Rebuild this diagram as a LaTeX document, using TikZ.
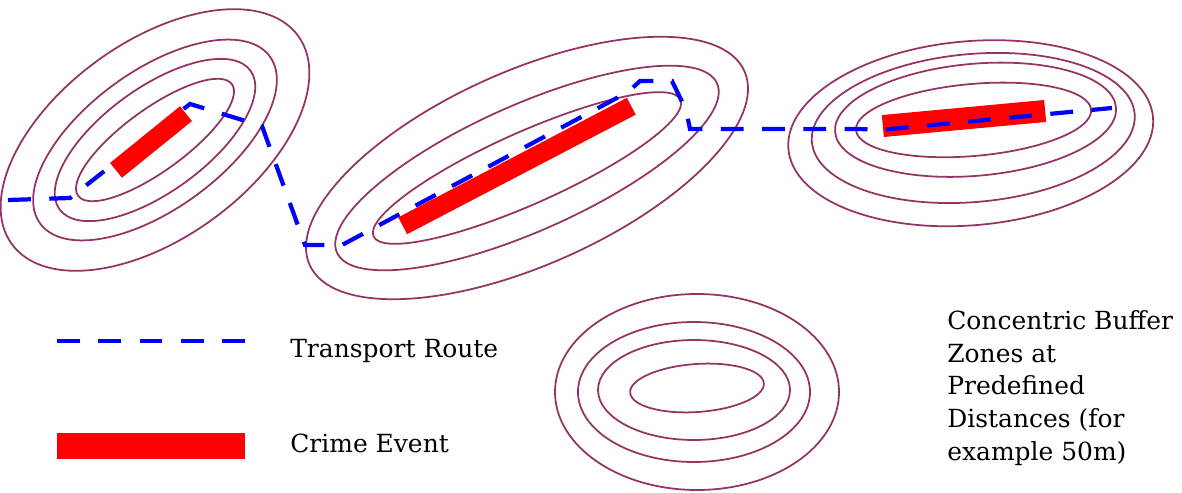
\documentclass[tikz,border=0pt]{standalone}
\usepackage{fontspec}
\setmainfont{Liberation Serif}
\newfontfamily\labelfont{DejaVu Serif}

\definecolor{zonecolor}{RGB}{150,50,100}

\tikzset{
    zone/.style={
        draw=zonecolor,
        line width=1pt
    },
    route/.style={
        draw=blue,
        line width=2.4pt,
        dash pattern=on 13pt off 10.5pt
    },
    crime/.style={
        fill=red
    },
    legendtext/.style={
        anchor=base west,
        inner sep=0pt,
        font=\labelfont\fontsize{14.2}{18.5}\selectfont
    }
}

\begin{document}
\begin{tikzpicture}[x=0.02cm, y=-0.02cm]
    \useasboundingbox (0,0) rectangle (1182,493);

    % Pufferzonen links oben
    \begin{scope}[shift={(155,140)}, rotate=36]
        \path[zone]
            (0,0) ellipse [x radius=95,  y radius=31]
            (0,0) ellipse [x radius=118, y radius=52]
            (0,0) ellipse [x radius=142, y radius=69]
            (0,0) ellipse [x radius=177, y radius=98];
    \end{scope}

    % Pufferzonen Mitte
    \begin{scope}[shift={(527,168)}, rotate=24]
        \path[zone]
            (0,0) ellipse [x radius=168, y radius=36]
            (0,0) ellipse [x radius=208, y radius=63]
            (0,0) ellipse [x radius=238, y radius=97];
    \end{scope}

    % Pufferzonen rechts oben
    \begin{scope}[shift={(973,125)}, rotate=5]
        \path[zone]
            (1,-5)  ellipse [x radius=118, y radius=36]
            (3,-5)  ellipse [x radius=141, y radius=56]
            (0,3)   ellipse [x radius=162, y radius=74]
            (-3,8)  ellipse [x radius=183, y radius=92];
    \end{scope}

    % Pufferzonen der Legende
    \path[zone]
        (697,388) ellipse [x radius=67,  y radius=24, rotate=4]
        (694,390) ellipse [x radius=96,  y radius=50]
        (694,392) ellipse [x radius=116, y radius=70]
        (697,392) ellipse [x radius=142, y radius=98];

    % Tatorte (Mitte und rechts liegen unter der Route)
    \path[crime, rotate around={27.6:(517,166)}] (388,156.5) rectangle (646,175.5);
    \path[crime, rotate around={5.3:(964,118.5)}] (882.5,107.5) rectangle (1045.5,129.5);

    % Transportroute
    \path[route]
        (8,200) -- (70,198) -- (190,104) -- (262,126) -- (305,245)
        -- (342,245) -- (628,92) -- (640,81) -- (672,81) -- (686,110)
        -- (690,129) -- (860,129) -- (880,130) -- (1112,108);

    % Tatort links liegt ueber der Route
    \path[crime, rotate around={39:(151,142)}] (106,132.5) rectangle (196,151.5);

    % Legende
    \path[route] (57,341) -- (246,341);
    \path[crime] (57,433) rectangle (245,459);

    % mehrzeiliger Text: base liegt auf der letzten Zeile
    \path
        node[legendtext] at (290,357) (routelabel) {Transport Route}
        node[legendtext] at (290,452) (crimelabel) {Crime Event}
        node[legendtext, align=left] at (947,460) (zonelabel)
            {Concentric Buffer\\Zones at\\Predefined\\Distances (for\\example 50m)};
\end{tikzpicture}
\end{document}
